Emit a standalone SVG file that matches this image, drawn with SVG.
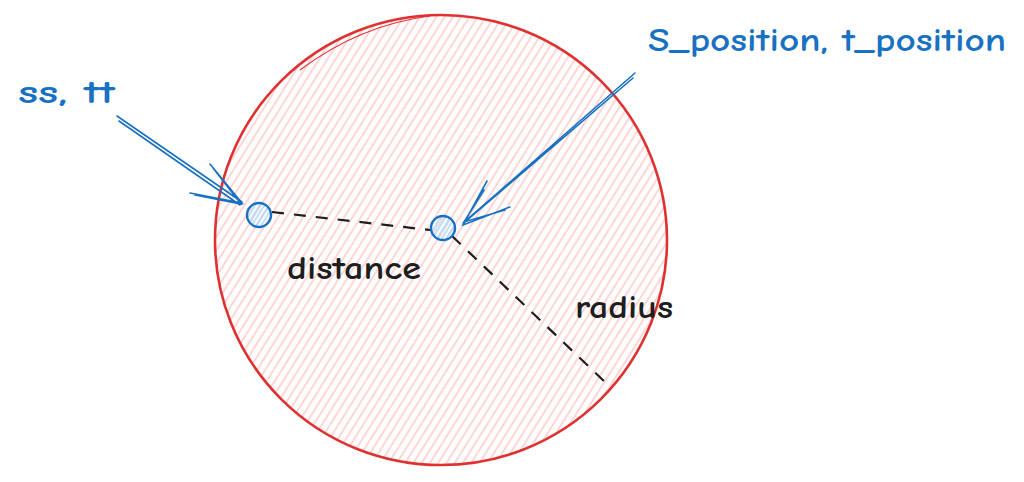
<svg xmlns="http://www.w3.org/2000/svg" width="1024" height="482" viewBox="0 0 1024 482">
<defs>
<pattern id="hatchRed" patternUnits="userSpaceOnUse" width="7" height="10" patternTransform="rotate(32)">
<line x1="1" y1="0" x2="1" y2="10" stroke="#ffc9c9" stroke-width="1.5"/>
</pattern>
<pattern id="hatchBlue" patternUnits="userSpaceOnUse" width="4" height="10" patternTransform="rotate(32)">
<line x1="1" y1="0" x2="1" y2="10" stroke="#a5d8ff" stroke-width="1.5"/>
</pattern>
<style>
.lbl{font-family:"Comic Neue","Liberation Sans",sans-serif;font-size:32px;font-weight:700}
.blue{fill:#1971c2}
.dark{fill:#1e1e1e}
.dash{stroke:#1e1e1e;stroke-width:2.2;stroke-dasharray:12 10;fill:none}
.arr{stroke:#1971c2;stroke-width:1.6;fill:none;stroke-linecap:round}
.dot{stroke:#1971c2;stroke-width:2.4;fill:url(#hatchBlue)}
</style>
</defs>
<rect width="1024" height="482" fill="#ffffff"/>
<g id="circle">
<ellipse cx="441" cy="240" rx="226" ry="225" fill="url(#hatchRed)" stroke="#e03131" stroke-width="2.6"/>
<path d="M300 70 Q360 25 430 16" stroke="#e03131" stroke-width="1.2" fill="none"/>
</g>
<g id="connectors">
<line class="dash" x1="272" y1="212" x2="430" y2="230"/>
<line class="dash" x1="452" y1="236" x2="605" y2="382"/>
<path class="arr" d="M117 116 L242 202 M119 121 L240 205 M210 164 L242 203 L190 193 M213 168 L241 204 L195 195"/>
<path class="arr" d="M635 73 L463 223 M633 78 L465 222 M487 181 L463 225 L510 207 M484 190 L464 222 L505 210"/>
</g>
<g id="ss">
<circle class="dot" cx="259" cy="215" r="12"/>
</g>
<g id="s_position">
<circle class="dot" cx="443" cy="228" r="12"/>
</g>
<g id="labels">
<text class="lbl blue" x="18" y="103" textLength="97" lengthAdjust="spacingAndGlyphs">ss, tt</text>
<text class="lbl blue" x="648" y="51" textLength="358" lengthAdjust="spacingAndGlyphs">S_position, t_position</text>
<text class="lbl dark" x="287" y="279" textLength="134" lengthAdjust="spacingAndGlyphs">distance</text>
<text class="lbl dark" x="575" y="318" textLength="98" lengthAdjust="spacingAndGlyphs">radius</text>
</g>
</svg>
